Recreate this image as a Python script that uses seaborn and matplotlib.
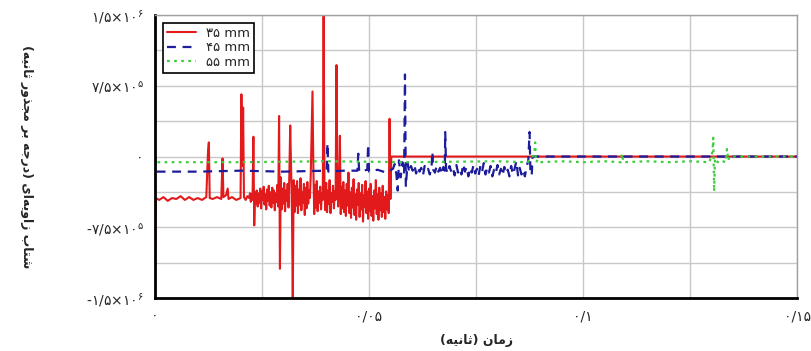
import matplotlib
matplotlib.use('Agg')
import matplotlib.pyplot as plt
import seaborn as sns

# داده‌ها (زمان بر حسب ثانیه، شتاب بر حسب 1e5 درجه بر مجذور ثانیه)
red_t = [0.0000, 0.0002, 0.0010, 0.0020, 0.0030, 0.0040, 0.0050, 0.0060, 0.0070, 0.0080,
         0.0090, 0.0100, 0.0110, 0.0120, 0.0124, 0.0126, 0.0128, 0.0135, 0.0145, 0.0155,
         0.0158, 0.0160, 0.0166, 0.0170, 0.0172, 0.0180, 0.0190, 0.0200, 0.0202, 0.0204,
         0.0206, 0.0208, 0.0212, 0.0216,
         0.0220, 0.0222, 0.0224, 0.0226, 0.0228, 0.0230, 0.0232, 0.0234, 0.0236, 0.0238,
         0.0240, 0.0242, 0.0244, 0.0246, 0.0248, 0.0250, 0.0252, 0.0254, 0.0256, 0.0258,
         0.0260, 0.0262, 0.0264, 0.0266, 0.0268, 0.0270, 0.0272, 0.0274, 0.0276, 0.0278,
         0.0280, 0.0282, 0.0284, 0.0286, 0.0288, 0.0290, 0.0292, 0.0294, 0.0296, 0.0298,
         0.0300, 0.0302, 0.0304, 0.0306, 0.0308, 0.0310, 0.0312, 0.0314, 0.0316, 0.0318,
         0.0320, 0.0322, 0.0324, 0.0326, 0.0328, 0.0330, 0.0332, 0.0334, 0.0336, 0.0338,
         0.0340, 0.0342, 0.0344, 0.0346, 0.0348, 0.0350, 0.0352, 0.0354, 0.0356, 0.0358,
         0.0360, 0.0362, 0.0364, 0.0366, 0.0368, 0.0370, 0.0372, 0.0374, 0.0376, 0.0378,
         0.0380, 0.0382, 0.0384, 0.0386, 0.0388, 0.0390, 0.0392, 0.0394, 0.0396, 0.0398,
         0.0400, 0.0402, 0.0404, 0.0406, 0.0408, 0.0410, 0.0412, 0.0414, 0.0416, 0.0418,
         0.0420, 0.0422, 0.0424, 0.0426, 0.0428, 0.0430, 0.0432, 0.0434, 0.0436, 0.0438,
         0.0440, 0.0442, 0.0444, 0.0446, 0.0448, 0.0450, 0.0452, 0.0454, 0.0456, 0.0458,
         0.0460, 0.0462, 0.0464, 0.0466, 0.0468, 0.0470, 0.0472, 0.0474, 0.0476, 0.0478,
         0.0480, 0.0482, 0.0484, 0.0486, 0.0488, 0.0490, 0.0492, 0.0494, 0.0496, 0.0498,
         0.0500, 0.0502, 0.0504, 0.0506, 0.0508, 0.0510, 0.0512, 0.0514, 0.0516, 0.0518,
         0.0520, 0.0522, 0.0524, 0.0526, 0.0528, 0.0530, 0.0532, 0.0534, 0.0536, 0.0538,
         0.0540, 0.0542, 0.0544, 0.0546, 0.0548, 0.0550, 0.0552, 0.1500]
red_acc = [-15.0, -4.4, -4.6, -4.3, -4.7, -4.4, -4.5, -4.2, -4.6, -4.3,
           -4.6, -4.4, -4.6, -4.3, 0.5, 1.5, -4.4, -4.5, -4.3, -4.5,
           -0.2, -4.3, -4.1, -3.4, -4.5, -4.3, -4.6, -4.4, 6.6, -1.0,
           5.2, -4.3, -4.6, -4.2,
           -4.4, -3.9, -4.8, -4.0, -4.6, 2.1, -7.3, -3.8, -5.0, -3.6,
           -5.3, -3.9, -4.9, -3.4, -5.5, -3.7, -4.6, -3.2, -5.1, -4.0,
           -5.6, -3.5, -4.7, -3.1, -5.2, -3.8, -5.4, -3.3, -4.9, -3.6,
           -5.7, -3.9, -4.8, -3.0, -5.3, 4.3, -11.9, -2.2, -5.6, -3.4,
           -5.0, -2.8, -5.8, -3.6, -4.7, -2.9, -5.4, -1.8, 3.3, -1.4,
           -5.6, -15.0, -2.5, -5.9, -3.1, -5.2, -2.6, -6.0, -3.5, -5.1,
           -2.3, -5.7, -3.8, -4.9, -2.9, -6.2, -3.3, -5.5, -2.7, -5.0,
           -3.6, -4.4, -1.9, 2.4, 6.9, -1.0, -6.1, -3.0, -5.4, -2.6,
           -5.8, -3.7, -4.9, -3.2, -5.6, -3.9, -4.6, 15.0, -3.4, -5.7,
           -2.8, -5.9, -3.6, -5.0, -2.5, -6.0, -3.9, -4.8, -3.1, -5.5,
           -3.7, -4.6, 9.7, -2.2, -5.3, -3.4, 2.2, -6.1, -3.2, -5.5,
           -2.7, -5.9, -3.6, -6.3, -2.9, -5.2, -1.7, -6.0, -3.8, -6.5,
           -3.3, -5.4, -2.4, -6.2, -4.0, -6.7, -3.5, -5.1, -2.8, -6.4,
           -3.9, -5.6, -3.0, -6.9, -4.1, -5.3, -2.6, -6.0, -3.7, -6.6,
           -3.4, -5.8, -2.9, -6.3, -4.2, -6.8, -3.6, -5.5, -2.5, -6.1,
           -4.0, -6.7, -3.3, -5.7, -3.9, -6.4, -3.1, -5.9, -4.3, -6.6,
           -3.7, -5.6, -4.1, -6.0, 4.0, -4.5, 0.0, 0.0]

blue_t = [0.0000, 0.0003, 0.0100, 0.0200, 0.0300, 0.0401, 0.0403, 0.0405, 0.0440, 0.0473,
          0.0475, 0.0477, 0.0496, 0.0498, 0.0500, 0.0520, 0.0540, 0.0556, 0.0560, 0.0564,
          0.0567, 0.0570, 0.0574, 0.0578, 0.0582, 0.0584, 0.0586, 0.0590,
          0.0594, 0.0598, 0.0602, 0.0606, 0.0610, 0.0614, 0.0618, 0.0622, 0.0626, 0.0630,
          0.0634, 0.0638, 0.0642, 0.0646, 0.0648, 0.0650, 0.0654, 0.0658, 0.0662, 0.0666,
          0.0670, 0.0674, 0.0677, 0.0678, 0.0680, 0.0684, 0.0688, 0.0692, 0.0696, 0.0700,
          0.0704, 0.0708, 0.0712, 0.0716, 0.0720, 0.0724, 0.0728, 0.0732, 0.0736, 0.0740,
          0.0744, 0.0748, 0.0752, 0.0756, 0.0760, 0.0764, 0.0768, 0.0772, 0.0776, 0.0780,
          0.0784, 0.0788, 0.0792, 0.0796, 0.0800, 0.0804, 0.0808, 0.0812, 0.0816, 0.0820,
          0.0824, 0.0828, 0.0832, 0.0836, 0.0840, 0.0844, 0.0848, 0.0852, 0.0856, 0.0860,
          0.0864, 0.0868, 0.0872, 0.0875, 0.0877, 0.0880, 0.0882, 0.1500]
blue_acc = [0.0, -1.6, -1.6, -1.5, -1.6, -1.5, 1.4, -1.6, -1.5, -1.5,
            0.3, -1.6, -1.4, 1.3, -1.6, -1.4, -1.7, -1.3, -0.8, -1.9,
            -3.6, -0.4, -2.2, -0.6, -1.8, 8.7, -3.2, -0.7,
            -1.7, -1.0, -1.5, -0.9, -1.8, -1.1, -1.6, -1.2, -2.0, -1.0,
            -1.5, -1.3, -1.9, -1.1, 0.5, -1.4, -1.7, -1.0, -1.6, -1.2,
            -1.9, -1.1, -1.5, 2.6, -1.3, -1.8, -1.0, -1.6, -1.2, -2.0,
            -0.9, -1.7, -1.3, -1.9, -0.8, -1.6, -1.1, -2.1, -1.2, -1.7,
            -0.9, -1.8, -1.3, -2.0, -1.0, -1.6, -0.7, -1.9, -1.2, -1.7,
            -1.0, -2.1, -1.4, -1.8, -0.9, -1.9, -1.3, -2.0, -1.1, -1.8,
            -1.4, -2.1, -1.0, -1.9, -1.3, -0.5, -2.0, -1.2, -1.9, -1.4,
            -2.1, -1.1, -0.4, 2.6, -1.8, -2.0, 0.0, 0.0]

green_t = [0.0000, 0.0003, 0.0200, 0.0400, 0.0600, 0.0800, 0.0870, 0.0886, 0.0888, 0.0890,
           0.0895, 0.0900, 0.0950, 0.1000, 0.1050, 0.1088, 0.1091, 0.1094, 0.1150, 0.1200,
           0.1250, 0.1295, 0.1302, 0.1304, 0.1306, 0.1308, 0.1314, 0.1320, 0.1333, 0.1336,
           0.1339, 0.1342, 0.1500]
green_acc = [0.0, -0.6, -0.6, -0.5, -0.6, -0.5, -0.6, 0.2, 1.5, -0.6,
             -0.3, -0.6, -0.5, -0.6, -0.5, -0.6, 0.3, -0.6, -0.5, -0.6,
             -0.5, -0.6, 0.5, 2.0, -3.7, -0.2, -0.6, -0.4, -0.6, 0.8,
             -0.4, 0.0, 0.0]

series_labels = ['۳۵ mm', '۴۵ mm', '۵۵ mm']

x_ticks = [0, 0.025, 0.05, 0.075, 0.1, 0.125, 0.15]
x_tick_labels = ['۰', '', '۰/۰۵', '', '۰/۱', '', '۰/۱۵']
y_ticks = [-1.5e6, -1.125e6, -7.5e5, -3.75e5, 0, 3.75e5, 7.5e5, 1.125e6, 1.5e6]
y_tick_labels = [r'-$\mathregular{۱/۵×۱۰^{۶}}$', '', r'-$\mathregular{۷/۵×۱۰^{۵}}$', '', '۰', '',
                 r'$\mathregular{۷/۵×۱۰^{۵}}$', '', r'$\mathregular{۱/۵×۱۰^{۶}}$']

x_title = 'زمان (ثانیه)'
y_title = 'شتاب زاویه‌ای (درجه بر مجذور ثانیه)'

# شکل‌دهی ساده حروف فارسی (matplotlib اتصال حروف را انجام نمی‌دهد)
FORMS = {
    'ا': ('\uFE8D', '\uFE8E', None, None),
    'ب': ('\uFE8F', '\uFE90', '\uFE91', '\uFE92'),
    'ت': ('\uFE95', '\uFE96', '\uFE97', '\uFE98'),
    'ث': ('\uFE99', '\uFE9A', '\uFE9B', '\uFE9C'),
    'ج': ('\uFE9D', '\uFE9E', '\uFE9F', '\uFEA0'),
    'د': ('\uFEA9', '\uFEAA', None, None),
    'ذ': ('\uFEAB', '\uFEAC', None, None),
    'ر': ('\uFEAD', '\uFEAE', None, None),
    'ز': ('\uFEAF', '\uFEB0', None, None),
    'ش': ('\uFEB5', '\uFEB6', '\uFEB7', '\uFEB8'),
    'م': ('\uFEE1', '\uFEE2', '\uFEE3', '\uFEE4'),
    'ن': ('\uFEE5', '\uFEE6', '\uFEE7', '\uFEE8'),
    'ه': ('\uFEE9', '\uFEEA', '\uFEEB', '\uFEEC'),
    'و': ('\uFEED', '\uFEEE', None, None),
    'ی': ('\uFBFC', '\uFBFD', '\uFBFE', '\uFBFF'),
}


def shape_fa(text):
    out = []
    for i, ch in enumerate(text):
        if ch not in FORMS:
            if ch != '\u200c':
                out.append(ch)
            continue
        prev = text[i - 1] if i > 0 else ''
        nxt = text[i + 1] if i + 1 < len(text) else ''
        join_prev = prev in FORMS and FORMS[prev][2] is not None
        join_next = FORMS[ch][2] is not None and nxt in FORMS
        iso, fin, ini, med = FORMS[ch]
        if join_prev and join_next:
            out.append(med)
        elif join_prev:
            out.append(fin)
        elif join_next:
            out.append(ini)
        else:
            out.append(iso)
    mirror = {'(': ')', ')': '('}
    return ''.join(mirror.get(c, c) for c in reversed(out))


sns.set_style('whitegrid')
plt.rcParams['font.family'] = ['DejaVu Sans']

fig = plt.figure(figsize=(8.11, 3.51), dpi=100)
ax = fig.add_axes([0.191, 0.151, 0.792, 0.806])

sns.lineplot(x=red_t, y=[v * 1e5 for v in red_acc], ax=ax, color='#e31a1c',
             lw=1.5, estimator=None, sort=False, label=series_labels[0])
sns.lineplot(x=blue_t, y=[v * 1e5 for v in blue_acc], ax=ax, color='#1c1c9c',
             lw=1.6, linestyle=(0, (4, 3)), estimator=None, sort=False, label=series_labels[1])
sns.lineplot(x=green_t, y=[v * 1e5 for v in green_acc], ax=ax, color='#3ccc3c',
             lw=1.6, linestyle=(0, (1.2, 2)), estimator=None, sort=False, label=series_labels[2])

ax.set_xlim(0, 0.15)
ax.set_ylim(-1.5e6, 1.5e6)
ax.set_xticks(x_ticks)
ax.set_xticklabels(x_tick_labels, fontsize=10)
ax.set_yticks(y_ticks)
ax.set_yticklabels(y_tick_labels, fontsize=10)
ax.tick_params(direction='in', length=4, width=1.5, color='black', pad=8)
ax.grid(True, color='#c8c8c8', lw=1)

for side in ['left', 'bottom']:
    ax.spines[side].set_color('black')
    ax.spines[side].set_linewidth(2)
for side in ['top', 'right']:
    ax.spines[side].set_color('#a0a0a0')
    ax.spines[side].set_linewidth(1)

ax.set_xlabel(shape_fa(x_title), fontsize=9, fontweight='bold', labelpad=8)
ax.set_ylabel(shape_fa(y_title), fontsize=9, fontweight='bold', rotation=270,
              va='center', labelpad=40)
ax.yaxis.set_label_coords(-0.2, 0.5)

leg = ax.legend(loc='upper left', fontsize=9.5, frameon=True, fancybox=False,
                edgecolor='black', framealpha=1, handlelength=2.2,
                borderaxespad=0.6, borderpad=0.3, labelspacing=0.1)
leg.get_frame().set_linewidth(1.2)

fig.savefig('out.png', dpi=100)
